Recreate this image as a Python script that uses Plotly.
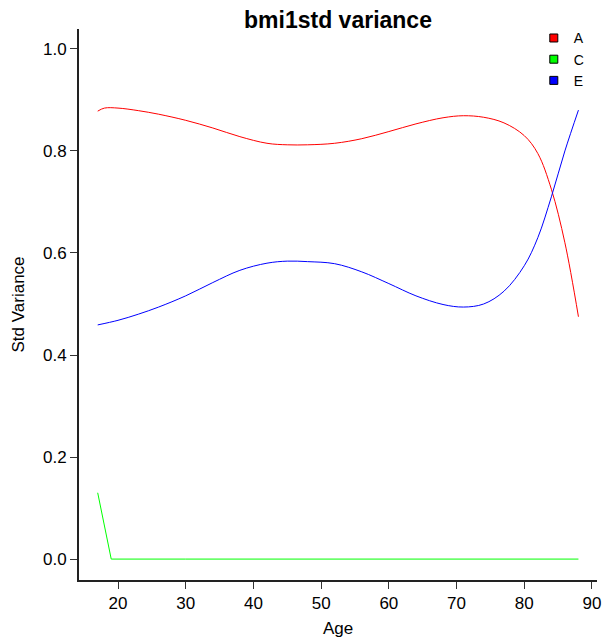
import plotly.graph_objects as go

age_a = [17, 18, 20, 23, 26, 30, 34, 38, 42, 45, 48, 52, 56, 60, 64, 68, 71, 74, 77, 80, 82, 84, 86, 88]
a_vals = [0.878, 0.884, 0.884, 0.879, 0.872, 0.860, 0.845, 0.828, 0.815, 0.812, 0.812, 0.815, 0.824, 0.838, 0.853, 0.865, 0.869, 0.866, 0.855, 0.830, 0.795, 0.725, 0.620, 0.475]

age_e = [17, 20, 23, 26, 30, 34, 38, 42, 45, 48, 52, 56, 60, 64, 68, 71, 74, 77, 80, 82, 84, 86, 88]
e_vals = [0.459, 0.468, 0.480, 0.494, 0.516, 0.542, 0.566, 0.580, 0.584, 0.583, 0.579, 0.563, 0.540, 0.516, 0.499, 0.494, 0.500, 0.525, 0.575, 0.630, 0.710, 0.800, 0.880]

age_c = [17, 19, 30, 40, 50, 60, 70, 80, 88]
c_vals = [0.130, 0.0, 0.0, 0.0, 0.0, 0.0, 0.0, 0.0, 0.0]

names = ["A", "C", "E"]
colors = ["#ff0000", "#00ff00", "#0000ff"]

fig = go.Figure()
fig.add_trace(go.Scatter(x=age_a, y=a_vals, mode="lines", line=dict(color=colors[0], width=1, shape="spline", smoothing=1.0), showlegend=False))
fig.add_trace(go.Scatter(x=age_c, y=c_vals, mode="lines", line=dict(color=colors[1], width=1), showlegend=False))
fig.add_trace(go.Scatter(x=age_e, y=e_vals, mode="lines", line=dict(color=colors[2], width=1, shape="spline", smoothing=1.0), showlegend=False))

for n, c in zip(names, colors):
    fig.add_trace(go.Scatter(x=[None], y=[None], mode="markers", name=n,
                             marker=dict(symbol="square", size=8, color=c, line=dict(color="black", width=1))))

font = "Liberation Sans, Arial, sans-serif"
W, H = 603, 638
L, R, T, B = 79, 6, 29, 58
fig.update_layout(
    width=W, height=H,
    paper_bgcolor="white", plot_bgcolor="white",
    margin=dict(l=L, r=R, t=T, b=B, autoexpand=False),
    title=dict(text="<b>bmi1std variance</b>", x=(L + W - R) / 2 / W, xanchor="center", y=1 - 20 / H, yanchor="middle",
               font=dict(family=font, size=23, color="black")),
    font=dict(family=font, color="black"),
    xaxis=dict(range=[14.24, 90.74], tickvals=[20, 30, 40, 50, 60, 70, 80, 90], ticks="outside", ticklen=7,
               tickwidth=1, tickcolor="#333", showline=True, linecolor="#222", linewidth=2, showgrid=False, zeroline=False,
               automargin=False, ticklabeloverflow="allow", tickfont=dict(size=17),
               title=dict(text="Age", font=dict(size=17), standoff=10)),
    yaxis=dict(range=[-0.041, 1.039], tickvals=[0, 0.2, 0.4, 0.6, 0.8, 1.0], ticktext=["0.0", "0.2", "0.4", "0.6", "0.8", "1.0"],
               ticks="outside", ticklen=7, tickwidth=1, tickcolor="#333", showline=True, linecolor="#222", linewidth=2,
               showgrid=False, zeroline=False, automargin=False, tickfont=dict(size=17),
               title=dict(text="Std Variance", font=dict(size=17), standoff=14)),
    legend=dict(x=0.878, y=1.012, xanchor="left", yanchor="top", bgcolor="rgba(0,0,0,0)", font=dict(size=14),
                tracegroupgap=0, itemwidth=30),
)

fig.write_html("out.html", config={"displayModeBar": False},
               post_script="document.body.style.margin='0';")
